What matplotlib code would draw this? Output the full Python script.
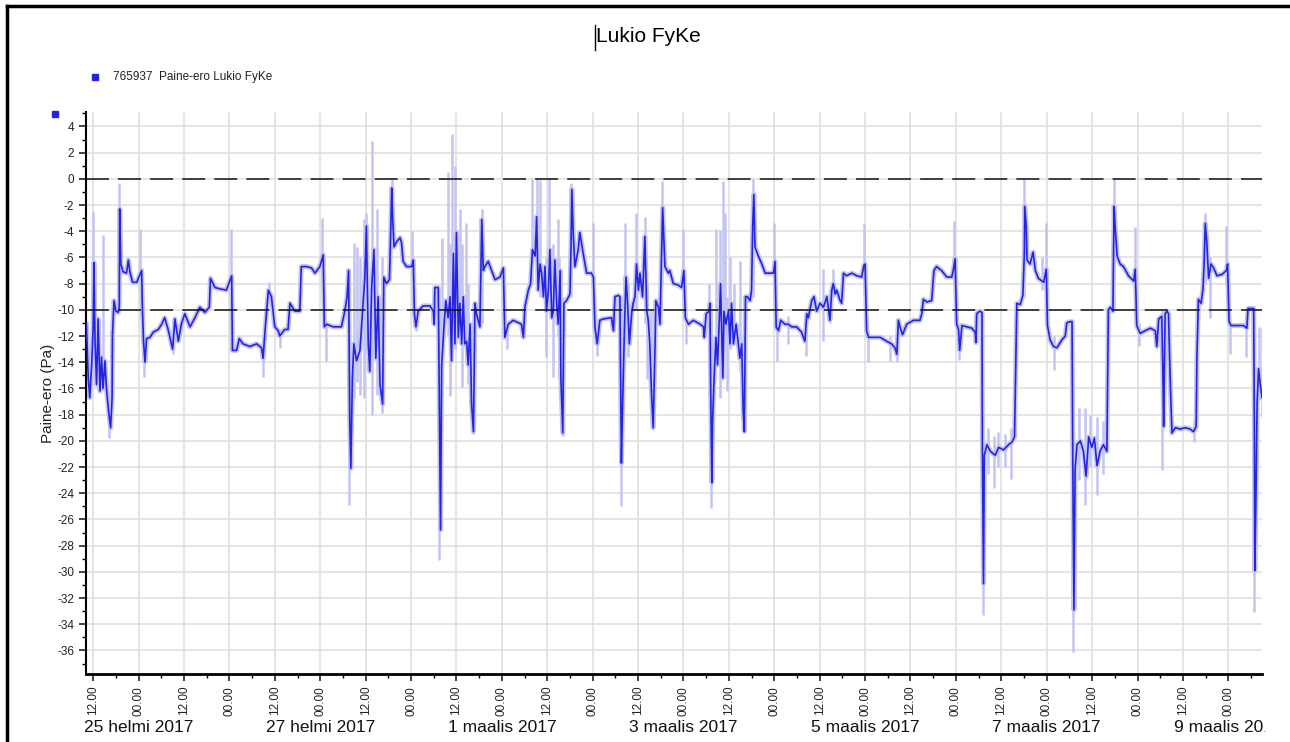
import matplotlib
matplotlib.use('Agg')
import matplotlib.pyplot as plt
import matplotlib.dates as mdates
from matplotlib.lines import Line2D
from matplotlib.ticker import MultipleLocator
from matplotlib.transforms import Bbox, TransformedBbox
import pandas as pd

plt.rcParams['font.family'] = ['Liberation Sans', 'DejaVu Sans']
plt.rcParams['axes.unicode_minus'] = False

# aika tunteina alkaen 24.2.2017 00:00
START = pd.Timestamp('2017-02-24 00:00')

main_hours = [
    10.2, 10.7, 11.1, 11.6, 12.0, 12.2, 12.5, 12.9, 13.3, 13.8, 14.2, 14.6, 15.1, 15.5, 16.1,
    16.6, 17.0, 17.1, 17.5, 18.0, 18.6, 18.9, 19.0, 19.3, 19.9, 20.8, 21.3, 21.7, 22.4, 23.5,
    24.8, 25.0, 25.3, 25.7, 26.1, 27.0, 27.9, 29.2, 30.1, 30.9, 31.8, 33.0, 33.6, 34.5, 35.3,
    36.2, 37.6, 38.9, 40.2, 41.5, 42.7, 43.0, 44.2, 45.5, 47.2, 48.6, 48.8, 49.9, 50.6, 51.6,
    53.4, 55.2, 56.5, 56.9, 57.5, 58.3, 59.1, 60.0, 60.9, 61.3, 62.6, 63.5, 64.0, 65.3, 66.6,
    67.0, 68.4, 69.7, 70.6, 71.9, 72.8, 73.1, 73.7, 75.4, 77.6, 78.5, 79.1, 79.5, 79.8, 80.1,
    80.5, 80.9, 81.6, 82.5, 83.2, 83.8, 84.2, 84.7, 85.1,
    85.6, 86.2, 86.7, 87.3, 87.8, 88.5, 88.8, 89.5, 90.3, 90.6, 90.9, 91.1, 91.5, 92.2, 93.1,
    93.5, 93.9, 94.8, 96.2, 96.6, 96.9, 97.3, 97.9, 99.2, 101.0, 101.9, 102.1, 102.3, 103.2, 103.5,
    103.8, 104.1, 104.7, 105.2, 105.8, 106.3, 106.7, 107.2, 107.6, 108.0, 108.5, 108.9, 109.4, 109.8, 110.2,
    110.7, 111.1, 111.6, 112.0, 112.5, 112.9, 113.3, 114.2, 114.7, 115.1, 115.5, 116.4, 117.3, 118.2, 119.5,
    120.4, 120.8, 121.7, 123.0, 125.2, 125.7, 126.1, 127.0, 127.6, 128.1, 128.8, 129.2, 129.6, 130.1, 130.5,
    131.0, 131.4, 131.8, 132.3, 132.7, 133.2, 133.6, 134.0, 134.5, 134.9, 135.4, 135.6, 136.1, 136.4, 137.1,
    138.0, 138.3, 138.5, 138.9, 139.3, 140.2, 140.6, 141.5, 142.4, 143.7, 144.2, 144.6, 145.2, 145.9, 146.8,
    149.0, 149.5, 149.9, 150.8, 151.2, 151.4, 151.6, 151.9, 152.3, 152.8, 153.2, 153.7, 154.3, 154.7, 155.2,
    155.6, 156.1, 156.5, 157.2, 157.8, 158.3, 158.7, 159.1, 159.6, 160.0, 160.5, 160.7, 161.4, 161.8, 162.2,
    162.5,
    163.1, 164.0, 164.4, 165.3, 166.6, 167.5, 168.1, 168.5, 169.3, 170.6, 172.4, 173.3, 173.5, 174.0, 174.8,
    175.0, 175.2, 175.5, 175.7, 176.1, 176.6, 177.0, 177.5, 177.8, 178.4, 178.7, 179.2, 179.9, 180.3, 180.7,
    181.2, 181.9, 182.5, 182.9, 183.4, 183.8, 184.1, 184.4, 184.9, 185.6, 186.0, 186.3, 186.6, 186.9, 187.8,
    188.7, 189.6, 190.9, 191.8, 192.2, 192.5, 193.1, 193.7, 194.8, 195.7, 196.6, 197.9, 199.2, 200.1, 200.6,
    201.0, 201.9, 202.5, 203.2, 204.1, 205.0, 205.9, 206.7, 207.2, 207.6, 208.1, 208.5, 209.4, 209.8, 210.3,
    211.1, 212.5, 213.8, 215.1, 215.7, 216.0, 216.4, 216.9, 218.2, 220.0, 221.7, 223.0, 223.9, 224.4, 224.8,
    225.2, 225.9, 227.0, 228.8, 230.5, 231.0, 231.4, 232.3, 233.6, 234.2, 234.9, 236.2, 237.6, 238.9, 239.3,
    239.8, 240.2,
    240.7, 241.0, 241.6, 242.9, 244.2, 245.1, 245.3, 245.5, 246.3, 246.9, 247.0, 247.3, 247.5, 248.2, 249.1,
    250.4, 251.3, 252.6, 253.9, 254.8, 255.5, 255.8, 256.1, 257.0, 257.7, 258.1, 258.2, 258.6, 258.8, 259.6,
    260.4, 261.0, 261.8, 263.2, 263.9, 264.2, 264.9, 265.8, 266.7, 268.0, 268.9, 269.3, 270.2, 270.7, 270.9,
    271.2, 271.5, 272.0, 272.9, 273.7, 274.4, 275.1, 275.9, 276.6, 277.3, 278.1, 279.0, 279.9, 280.1, 280.3,
    280.8, 281.5, 281.8, 282.1, 282.6, 283.4, 284.3, 285.6, 287.0, 287.4, 287.8, 288.7, 290.0, 291.4, 292.7,
    293.1, 293.6, 294.4, 294.7, 294.9, 295.3, 295.8, 296.2, 296.6, 297.1, 298.0, 299.3, 300.6, 301.9, 302.8,
    303.5, 303.7, 304.1, 304.8, 305.3, 305.6, 305.9, 306.3, 306.8, 307.4, 308.1, 309.0, 310.3, 311.5, 311.8,
    312.2, 312.7, 313.4, 314.7, 316.0, 316.9, 317.2, 318.7, 318.9, 319.0, 319.3, 319.6, 320.0, 320.4, 320.9,
]

main_pa = [
    -11.1, -15.2, -16.7, -14.2, -11.3, -6.4, -12.6, -15.7, -10.7, -16.2, -13.6, -16.0, -13.9, -16.0, -17.8,
    -19.0, -16.7, -11.9, -9.3, -10.1, -10.2, -9.8, -2.3, -6.5, -7.1, -7.2, -6.2, -7.1, -7.9, -7.9,
    -7.0, -9.8, -12.4, -14.0, -12.2, -12.1, -11.7, -11.5, -11.1, -10.6, -11.5, -13.0, -10.7, -12.4, -11.1,
    -10.3, -11.3, -10.6, -9.8, -10.2, -9.8, -7.6, -8.3, -8.4, -8.5, -7.4, -13.1, -13.1, -12.2, -12.6,
    -12.8, -12.6, -12.9, -13.7, -11.3, -8.5, -9.0, -11.3, -11.6, -12.0, -11.5, -11.5, -9.5, -10.1, -10.1,
    -6.7, -6.7, -6.8, -7.2, -6.7, -5.8, -11.3, -11.1, -11.3, -11.3, -10.1, -9.0, -7.0, -18.3, -22.1,
    -15.2, -12.6, -13.9, -13.1, -10.1, -7.5, -3.6, -12.6, -14.7,
    -8.3, -5.4, -13.7, -9.0, -15.7, -17.2, -7.5, -8.0, -7.7, -4.4, -0.7, -2.6, -5.2, -4.8, -4.5,
    -4.9, -6.3, -6.7, -6.7, -6.2, -10.3, -11.3, -10.1, -9.7, -9.7, -10.1, -11.1, -8.3, -8.3, -17.2,
    -26.8, -14.2, -11.3, -9.3, -10.6, -9.0, -13.9, -5.7, -12.6, -4.1, -12.1, -9.5, -12.6, -9.0, -12.6,
    -12.4, -14.2, -11.1, -17.2, -19.3, -9.5, -10.3, -11.3, -3.1, -7.0, -6.7, -6.3, -7.0, -7.7, -7.5,
    -6.8, -12.1, -11.1, -10.8, -11.1, -12.1, -9.8, -8.5, -8.0, -5.4, -5.9, -2.9, -8.5, -6.5, -7.2,
    -9.0, -6.7, -10.1, -8.5, -5.4, -10.6, -10.1, -6.2, -9.5, -11.1, -7.0, -15.2, -19.4, -9.5, -9.3,
    -8.8, -4.9, -0.8, -4.4, -6.7, -5.4, -4.1, -5.7, -7.2, -7.2, -7.5, -11.3, -12.6, -10.8, -10.7,
    -10.6, -11.6, -9.0, -8.9, -9.0, -15.2, -21.7, -17.5, -12.6, -7.5, -9.3, -12.6, -10.3, -9.5, -9.0,
    -6.5, -8.5, -7.2, -9.0, -4.4, -10.1, -10.8, -12.6, -16.7, -19.0, -12.6, -9.3, -9.8, -11.1, -6.2,
    -2.2,
    -6.7, -7.2, -7.0, -8.0, -8.1, -8.3, -7.0, -10.6, -11.1, -10.8, -11.1, -11.3, -12.1, -10.3, -10.1,
    -9.5, -16.2, -23.2, -18.5, -15.2, -12.1, -14.2, -10.6, -8.0, -15.2, -10.1, -11.1, -10.1, -12.6, -9.5,
    -12.6, -11.1, -12.6, -13.7, -12.6, -17.8, -19.3, -9.0, -9.0, -9.3, -8.5, -3.6, -1.2, -5.2, -5.9,
    -6.5, -7.2, -7.2, -7.2, -6.3, -11.3, -11.6, -10.8, -11.1, -11.1, -11.3, -11.3, -11.7, -12.4, -10.3,
    -10.6, -9.3, -9.0, -10.1, -9.5, -9.8, -9.0, -10.8, -8.5, -8.0, -8.8, -8.5, -9.3, -9.5, -7.2,
    -7.4, -7.2, -7.4, -7.5, -6.6, -6.5, -11.6, -12.1, -12.1, -12.1, -12.4, -12.6, -12.9, -13.4, -10.8,
    -11.3, -11.9, -11.1, -10.8, -10.8, -10.3, -9.2, -9.4, -9.3, -7.0, -6.7, -7.0, -7.5, -7.5, -7.0,
    -6.1, -11.1,
    -11.5, -13.1, -11.2, -11.3, -11.4, -11.7, -12.5, -10.3, -10.1, -10.2, -20.5, -30.9, -21.1, -20.3, -20.8,
    -21.1, -20.5, -20.7, -20.3, -20.1, -19.7, -14.7, -9.5, -9.6, -8.9, -5.6, -2.1, -3.7, -6.2, -6.5,
    -5.6, -7.0, -7.6, -7.9, -6.9, -11.2, -12.3, -12.8, -12.9, -12.3, -12.0, -11.0, -10.9, -10.9, -21.9,
    -32.9, -22.2, -20.3, -20.0, -20.8, -22.7, -19.7, -20.5, -19.8, -21.9, -20.8, -20.3, -20.8, -15.0, -10.0,
    -9.8, -10.1, -2.1, -3.7, -5.9, -6.5, -6.7, -7.4, -7.8, -6.9, -11.2, -11.8, -11.6, -11.4, -11.6,
    -12.8, -10.7, -10.5, -14.7, -18.9, -10.3, -10.1, -10.3, -15.0, -19.4, -19.0, -19.1, -19.0, -19.1, -19.3,
    -18.9, -13.6, -9.2, -9.5, -8.4, -6.5, -3.4, -4.8, -7.6, -6.5, -6.8, -7.4, -7.3, -7.0, -6.5,
    -10.9, -11.2, -11.2, -11.2, -11.2, -11.4, -9.9, -9.9, -19.7, -29.9, -24.4, -17.2, -14.5, -15.6, -16.7,
]

# vaalea min/max-alue (piikit)
spike_hours = [
    12.0, 14.6, 16.2, 18.9, 24.5, 25.5, 33.0, 48.4, 56.8, 58.5, 61.3, 72.4, 73.4, 79.7, 80.8,
    81.8, 82.6, 83.5, 84.1, 85.8, 86.9, 88.2, 90.9, 96.2, 97.3, 103.5, 104.1, 105.8, 106.3, 106.7,
    107.6, 108.9, 109.6, 110.5, 111.1, 112.5, 114.7, 121.3, 128.1, 129.2, 130.1, 131.8, 132.5, 133.4, 134.9,
    135.2, 136.1, 138.3, 144.2, 145.1, 151.4, 152.5, 153.4, 155.4, 157.8, 158.3, 159.3, 162.2, 168.0, 168.8,
    174.8, 175.2, 176.6, 177.7, 178.5, 179.0, 179.4, 180.3, 181.4, 182.9, 183.8, 186.3, 191.9, 192.8, 195.7,
    200.3, 205.0, 206.7, 207.6, 215.7, 216.9, 222.6, 224.4, 239.5, 240.9, 247.1, 248.5, 250.0, 251.0, 253.0,
    254.5, 257.9, 262.7, 263.7, 266.0, 270.9, 272.5, 274.2, 275.5, 277.3, 278.8, 281.7, 287.4, 288.3, 294.6,
    295.8, 302.8, 305.9, 307.2, 311.5, 312.5, 316.7, 318.7, 320.0, 320.8,
]
spike_lo = [
    -11.3, -16.0, -19.8, -10.0, -7.5, -15.1, -13.4, -7.6, -15.1, -9.0, -12.9, -6.5, -13.9, -24.9, -16.7,
    -15.5, -16.5, -16.7, -12.0, -18.0, -16.5, -17.9, -5.0, -7.0, -11.6, -29.1, -14.5, -12.0, -16.6, -14.0,
    -13.0, -12.5, -15.9, -14.0, -15.7, -19.5, -11.0, -13.0, -8.0, -8.0, -9.0, -13.6, -9.0, -15.1, -12.0,
    -15.2, -19.6, -9.0, -8.0, -13.5, -25.0, -12.0, -13.6, -10.0, -11.0, -15.3, -18.3, -8.0, -8.0, -12.6,
    -10.5, -25.1, -13.0, -16.7, -12.0, -12.0, -16.2, -13.0, -12.3, -14.7, -19.0, -9.0, -7.5, -13.9, -12.6,
    -13.5, -12.4, -11.0, -9.0, -7.5, -14.0, -13.9, -14.0, -7.5, -13.8, -33.3, -22.5, -23.6, -22.0, -22.0,
    -22.9, -9.0, -8.5, -8.0, -14.6, -36.1, -23.0, -24.9, -22.0, -24.1, -22.5, -10.0, -8.0, -12.8, -22.2,
    -11.0, -20.1, -8.0, -10.6, -8.0, -13.4, -13.6, -33.1, -16.0, -18.2,
]
spike_hi = [
    -2.5, -4.3, -17.8, -0.3, -3.8, -12.4, -11.0, -3.8, -12.8, -7.9, -11.5, -3.0, -11.2, -7.0, -4.9,
    -5.2, -6.0, -3.1, -2.6, 2.9, -2.3, -6.0, 0.0, -4.0, -10.0, -17.0, -4.5, 0.5, -5.0, 3.4,
    1.0, -2.3, -5.0, -3.4, -8.0, -12.0, -2.3, -11.0, 0.0, 0.0, -0.1, -6.0, 0.0, -5.0, -3.1,
    -6.0, -9.0, -0.3, -3.4, -11.0, -9.0, -3.4, -8.0, -2.6, -2.9, -8.0, -10.0, -0.2, -3.8, -10.5,
    -8.0, -10.0, -3.8, -3.9, -0.2, -2.6, -9.0, -6.0, -8.0, -6.3, -12.0, 0.0, -3.4, -11.0, -10.5,
    -11.5, -6.9, -8.5, -6.9, -3.4, -11.5, -12.0, -12.0, -3.2, -11.0, -20.0, -19.0, -19.6, -19.3, -19.5,
    -19.0, 0.0, -6.0, -3.4, -12.0, -21.0, -17.5, -17.5, -18.0, -18.2, -18.5, 0.0, -3.7, -11.0, -10.0,
    -9.9, -18.5, -2.6, -6.0, -3.6, -11.0, -11.0, -10.0, -11.3, -11.4,
]

limit_lines = [0, -10]
date_label_days = ['2017-02-25', '2017-02-27', '2017-03-01', '2017-03-03',
                   '2017-03-05', '2017-03-07', '2017-03-09']
date_label_texts = ['25 helmi 2017', '27 helmi 2017', '1 maalis 2017', '3 maalis 2017',
                    '5 maalis 2017', '7 maalis 2017', '9 maalis 2017']

BLUE = '#2424e2'
LIGHT = '#c4c4f2'

t_main = START + pd.to_timedelta(main_hours, unit='h')
t_spike = START + pd.to_timedelta(spike_hours, unit='h')

fig = plt.figure(figsize=(12.9, 7.42), dpi=100)
ax = fig.add_axes([86 / 1290, 1 - 674 / 742, (1262 - 86) / 1290, (674 - 112) / 742])

ax.vlines(t_spike, spike_lo, spike_hi, color=LIGHT, lw=1.8, zorder=2)
ax.plot(t_main, main_pa, color=LIGHT, lw=3.6, zorder=2)
ax.plot(t_main, main_pa, color=BLUE, lw=1.2, zorder=3)
for y in limit_lines:
    ax.axhline(y, color='#111111', lw=1.1, dashes=(15, 6), zorder=4)

ax.set_xlim(START + pd.Timedelta(hours=10.1), START + pd.Timedelta(hours=320.9))
ax.set_ylim(-37.8, 5.1)

ax.xaxis.set_major_locator(mdates.HourLocator(byhour=[0, 12]))
ax.xaxis.set_minor_locator(mdates.HourLocator(byhour=[6, 18]))
ax.xaxis.set_major_formatter(mdates.DateFormatter('%H.%M'))
ax.yaxis.set_major_locator(MultipleLocator(2))
ax.yaxis.set_minor_locator(MultipleLocator(1))

ax.grid(True, which='major', color='#e0e0e0', lw=1.2, zorder=0)
ax.set_axisbelow(True)
for s in ['top', 'right']:
    ax.spines[s].set_visible(False)
ax.spines['left'].set_linewidth(1.5)
ax.spines['bottom'].set_linewidth(2.0)

ax.tick_params(axis='x', which='major', labelsize=8.5, labelrotation=90, length=5, width=1.2,
               colors='#222222')
ax.tick_params(axis='x', which='minor', length=3, width=1.0)
ax.tick_params(axis='y', which='major', labelsize=8.5, length=5, width=1.2, colors='#222222')
ax.tick_params(axis='y', which='minor', length=3, width=1.0)

ax.set_ylabel('Paine-ero (Pa)', fontsize=11, color='#222222')
ax.yaxis.set_label_coords((55 - 86) / 1176, 0.5)

clip = TransformedBbox(Bbox([[0, 0], [1265 / 1290, 1]]), fig.transFigure)
for day, txt in zip(date_label_days, date_label_texts):
    t = ax.text(pd.Timestamp(day), -(727 - 674) / 562, txt, transform=ax.get_xaxis_transform(),
                ha='center', va='center', fontsize=12.5, color='#111111', clip_on=True)
    t.set_clip_box(clip)

fig.text(648 / 1290, 1 - 37 / 742, 'Lukio FyKe', ha='center', va='center', fontsize=15)
fig.add_artist(Line2D([595 / 1290, 595 / 1290], [1 - 25 / 742, 1 - 50 / 742], color='black', lw=1))

fig.add_artist(Line2D([95 / 1290], [1 - 77 / 742], marker='s', ms=4, color=BLUE, lw=0))
fig.text(113 / 1290, 1 - 77 / 742, '765937  Paine-ero Lukio FyKe', ha='left', va='center',
         fontsize=8.5, color='#222222')
fig.add_artist(Line2D([55 / 1290], [1 - 114 / 742], marker='s', ms=4, color=BLUE, lw=0))

# kehys
fig.add_artist(Line2D([7 / 1290, 1], [1 - 6 / 742, 1 - 6 / 742], color='black', lw=2.5))
fig.add_artist(Line2D([7 / 1290, 7 / 1290], [0, 1 - 6 / 742], color='black', lw=2.5))

fig.savefig('out.png', dpi=100)
